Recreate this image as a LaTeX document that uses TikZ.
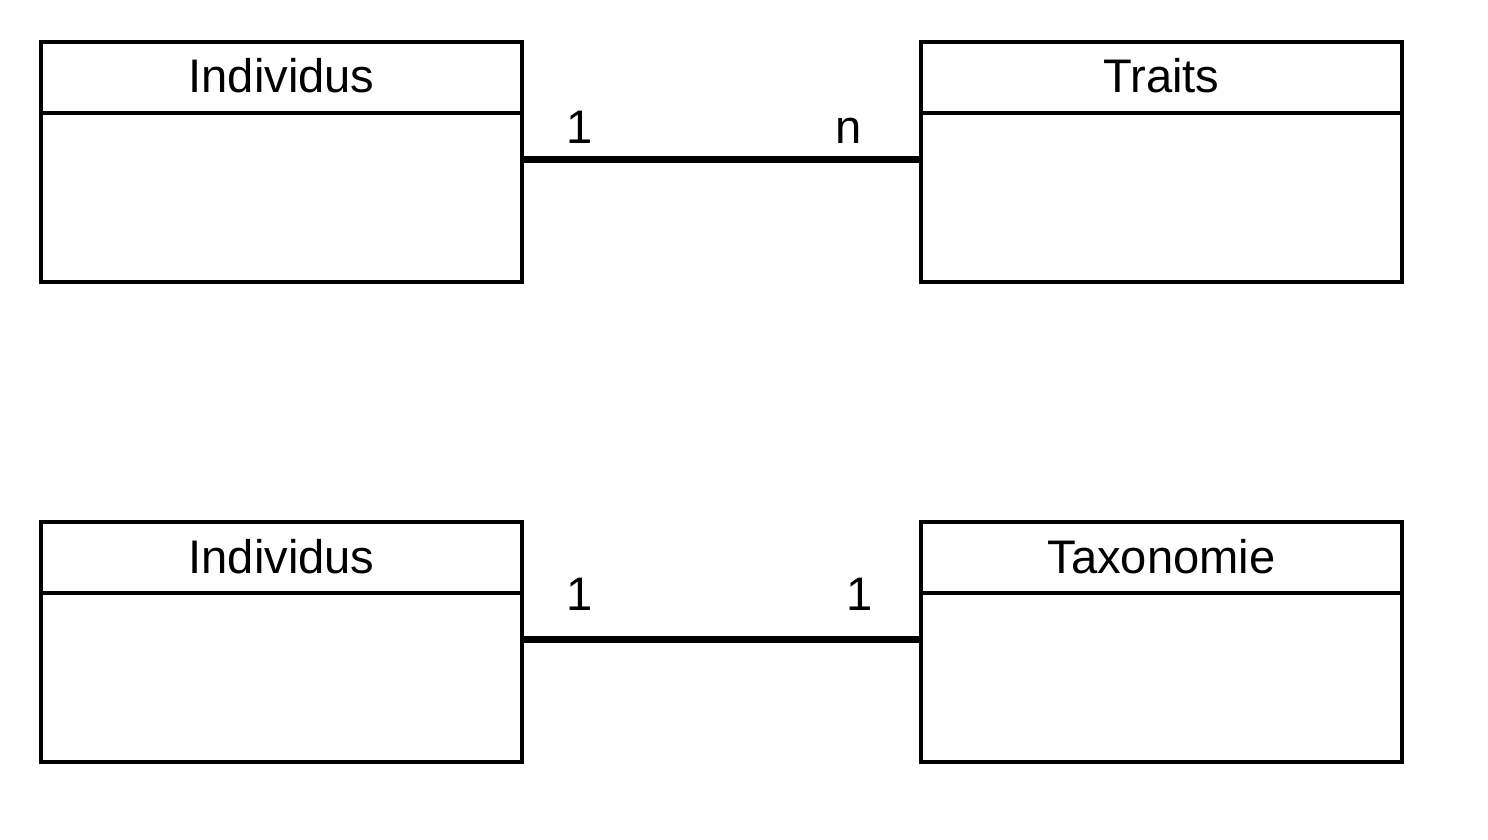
\documentclass[tikz,border=0pt]{standalone}
\usepackage{fontspec}
\setmainfont{Liberation Sans}

\tikzset{
  entity/.style={draw,line width=1.15pt,minimum width=4.81cm,minimum height=2.4cm,inner sep=0pt},
  divider/.style={line width=1.15pt},
  title/.style={font=\fontsize{13.4}{16}\selectfont,anchor=base},
  card/.style={font=\fontsize{13.4}{16}\selectfont,anchor=base},
  assoc/.style={line width=2pt}
}

\begin{document}
\begin{tikzpicture}[x=0.01cm,y=-0.01cm]
\useasboundingbox (0,0) rectangle (1488,840);
% first pair
\node[entity] (indA) at (281.5,162) {};
\node[entity] (traits) at (1161.5,162) {};
\node[title] (indAtitle) at (281.5,93) {Individus};
\node[title] (traitstitle) at (1161.5,93) {Traits};
\draw[divider] ([yshift=-0.73cm]indA.north west) -- ([yshift=-0.73cm]indA.north east);
\draw[divider] ([yshift=-0.73cm]traits.north west) -- ([yshift=-0.73cm]traits.north east);
\draw[assoc] ([yshift=0.025cm]indA.east) -- ([yshift=0.025cm]traits.west);
\node[card] (cardA1) at (580,144) {1};
\node[card] (cardAn) at (849,144) {n};
% second pair
\node[entity] (indB) at (281.5,642) {};
\node[entity] (taxo) at (1161.5,642) {};
\node[title] (indBtitle) at (281.5,573) {Individus};
\node[title] (taxotitle) at (1161.5,573) {Taxonomie};
\draw[divider] ([yshift=-0.73cm]indB.north west) -- ([yshift=-0.73cm]indB.north east);
\draw[divider] ([yshift=-0.73cm]taxo.north west) -- ([yshift=-0.73cm]taxo.north east);
\draw[assoc] ([yshift=0.025cm]indB.east) -- ([yshift=0.025cm]taxo.west);
\node[card] (cardB1) at (580,610) {1};
\node[card] (cardB2) at (860,610) {1};
\end{tikzpicture}
\end{document}
